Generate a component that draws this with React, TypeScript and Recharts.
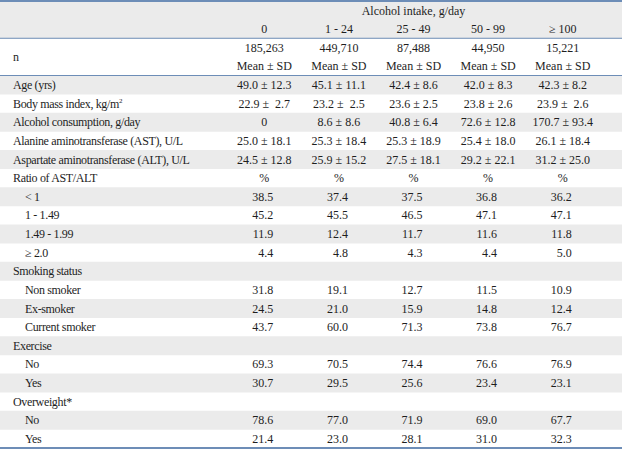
import React from "react";
import { ComposedChart, Bar, Scatter, XAxis, YAxis, ReferenceLine, ReferenceArea } from "recharts";

// ---------- data ----------
const COLUMNS = ["0", "1 - 24", "25 - 49", "50 - 99", "≥ 100"];
const HEADER_TITLE = "Alcohol intake, g/day";
const N_COUNTS = ["185,263", "449,710", "87,488", "44,950", "15,221"];
const STAT_LABEL = "Mean ± SD";

const AGE = ["49.0 ± 12.3", "45.1 ± 11.1", "42.4 ± 8.6", "42.0 ± 8.3", "42.3 ± 8.2"];
const BMI = ["22.9 ±  2.7", "23.2 ±  2.5", "23.6 ± 2.5", "23.8 ± 2.6", "23.9 ±  2.6"];
const ALCOHOL = ["0", "8.6 ± 8.6", "40.8 ± 6.4", "72.6 ± 12.8", "170.7 ± 93.4"];
const AST = ["25.0 ± 18.1", "25.3 ± 18.4", "25.3 ± 18.9", "25.4 ± 18.0", "26.1 ± 18.4"];
const ALT = ["24.5 ± 12.8", "25.9 ± 15.2", "27.5 ± 18.1", "29.2 ± 22.1", "31.2 ± 25.0"];
const PERCENT = ["%", "%", "%", "%", "%"];
const RATIO_LT1 = ["38.5", "37.4", "37.5", "36.8", "36.2"];
const RATIO_1_149 = ["45.2", "45.5", "46.5", "47.1", "47.1"];
const RATIO_149_199 = ["11.9", "12.4", "11.7", "11.6", "11.8"];
const RATIO_GE2 = ["4.4", "4.8", "4.3", "4.4", "5.0"];
const NON_SMOKER = ["31.8", "19.1", "12.7", "11.5", "10.9"];
const EX_SMOKER = ["24.5", "21.0", "15.9", "14.8", "12.4"];
const CURRENT_SMOKER = ["43.7", "60.0", "71.3", "73.8", "76.7"];
const EXERCISE_NO = ["69.3", "70.5", "74.4", "76.6", "76.9"];
const EXERCISE_YES = ["30.7", "29.5", "25.6", "23.4", "23.1"];
const OVERWEIGHT_NO = ["78.6", "77.0", "71.9", "69.0", "67.7"];
const OVERWEIGHT_YES = ["21.4", "23.0", "28.1", "31.0", "32.3"];

type RowDef = { key: string; label: string; indent: number; values: string[] | null; align: "middle" | "end" };

const ROW_DEFS: RowDef[] = [
  { key: "h1", label: "", indent: 0, values: null, align: "middle" },
  { key: "h2", label: "", indent: 0, values: COLUMNS, align: "middle" },
  { key: "n1", label: "n", indent: 0, values: N_COUNTS, align: "middle" },
  { key: "n2", label: "", indent: 0, values: COLUMNS.map(() => STAT_LABEL), align: "middle" },
  { key: "age", label: "Age (yrs)", indent: 0, values: AGE, align: "middle" },
  { key: "bmi", label: "Body mass index, kg/m", indent: 0, values: BMI, align: "middle" },
  { key: "alc", label: "Alcohol consumption, g/day", indent: 0, values: ALCOHOL, align: "middle" },
  { key: "ast", label: "Alanine aminotransferase (AST), U/L", indent: 0, values: AST, align: "middle" },
  { key: "alt", label: "Aspartate aminotransferase (ALT), U/L", indent: 0, values: ALT, align: "middle" },
  { key: "ratio", label: "Ratio of AST/ALT", indent: 0, values: PERCENT, align: "middle" },
  { key: "r1", label: "< 1", indent: 1, values: RATIO_LT1, align: "end" },
  { key: "r2", label: "1 - 1.49", indent: 1, values: RATIO_1_149, align: "end" },
  { key: "r3", label: "1.49 - 1.99", indent: 1, values: RATIO_149_199, align: "end" },
  { key: "r4", label: "≥ 2.0", indent: 1, values: RATIO_GE2, align: "end" },
  { key: "smk", label: "Smoking status", indent: 0, values: null, align: "end" },
  { key: "smk1", label: "Non smoker", indent: 1, values: NON_SMOKER, align: "end" },
  { key: "smk2", label: "Ex-smoker", indent: 1, values: EX_SMOKER, align: "end" },
  { key: "smk3", label: "Current smoker", indent: 1, values: CURRENT_SMOKER, align: "end" },
  { key: "ex", label: "Exercise", indent: 0, values: null, align: "end" },
  { key: "ex1", label: "No", indent: 1, values: EXERCISE_NO, align: "end" },
  { key: "ex2", label: "Yes", indent: 1, values: EXERCISE_YES, align: "end" },
  { key: "ow", label: "Overweight*", indent: 0, values: null, align: "end" },
  { key: "ow1", label: "No", indent: 1, values: OVERWEIGHT_NO, align: "end" },
  { key: "ow2", label: "Yes", indent: 1, values: OVERWEIGHT_YES, align: "end" },
];

// shaded rows: header + alternating body rows starting at "Age"
const rows = ROW_DEFS.map((r, i) => ({
  key: r.key,
  shade: i < 2 || (i >= 4 && (i - 4) % 2 === 0) ? 1 : 0,
}));

type Cell = { key: string; col: string; text: string; align: "middle" | "end" };
const cells: Cell[] = [];
COLUMNS.forEach((col, ci) => {
  ROW_DEFS.forEach((r) => {
    if (r.values) cells.push({ key: r.key, col, text: r.values[ci], align: r.align });
  });
});
cells.push({ key: "h1", col: COLUMNS[2], text: HEADER_TITLE, align: "middle" });

const labelByKey: Record<string, RowDef> = {};
ROW_DEFS.forEach((r) => (labelByKey[r.key] = r));

// ---------- layout ----------
const W = 622;
const H = 451;
const MARGIN = { top: 1, right: 0, bottom: 3, left: -1 };
const ROW_H = (H - MARGIN.top - MARGIN.bottom) / ROW_DEFS.length;
const FONT = "'Liberation Serif', 'Times New Roman', serif";
const FS = 12;
const TXT = "#1e1e1e";
const GRAY = "#ebebeb";
const RULE = "#6d8db7";

const LabelTick = (props: any) => {
  const { y, payload } = props;
  const r = labelByKey[payload.value];
  if (!r || !r.label) return <g />;
  const dy = r.key === "n1" ? ROW_H / 2 : 0;
  return (
    <text
      x={13 + r.indent * 12}
      y={y + dy}
      dy="0.35em"
      textAnchor="start"
      fontFamily={FONT}
      fontSize={FS}
      letterSpacing={-0.35}
      fill={TXT}
    >
      {r.label}
      {r.key === "bmi" ? (
        <tspan fontSize={7} dy={-4.5}>
          2
        </tspan>
      ) : null}
    </text>
  );
};

const CellShape = (props: any) => {
  const { cx, cy, payload } = props;
  if (cx == null || cy == null || !payload) return <g />;
  const isEnd = payload.align === "end";
  return (
    <text
      x={isEnd ? cx + 9 : cx}
      y={cy}
      dy="0.35em"
      textAnchor={isEnd ? "end" : "middle"}
      fontFamily={FONT}
      fontSize={FS}
      fill={TXT}
      style={{ whiteSpace: "pre" }}
    >
      {payload.text}
    </text>
  );
};

const UnderlineShape = (props: any) => {
  const { x, y, width, height } = props;
  return <line x1={x} x2={x + width} y1={y + height} y2={y + height} stroke={RULE} strokeWidth={1} />;
};

export default function App() {
  return (
    <div style={{ position: "absolute", left: 0, top: 0, width: W, height: H, background: "#fff" }}>
      <ComposedChart
        width={W}
        height={H}
        data={rows}
        layout="vertical"
        margin={MARGIN}
        barCategoryGap={0}
        barGap={0}
      >
        <XAxis xAxisId={0} type="number" domain={[0, 1]} hide />
        <XAxis
          xAxisId="col"
          type="category"
          dataKey="col"
          allowDuplicatedCategory={false}
          padding={{ left: 227, right: 22 }}
          hide
        />
        <YAxis
          yAxisId={0}
          type="category"
          dataKey="key"
          allowDuplicatedCategory={false}
          width={1}
          axisLine={false}
          tickLine={false}
          interval={0}
          tick={<LabelTick />}
        />
        <Bar
          xAxisId={0}
          yAxisId={0}
          data={rows}
          dataKey="shade"
          fill={GRAY}
          isAnimationActive={false}
        />
        <ReferenceArea
          xAxisId="col"
          yAxisId={0}
          x1={COLUMNS[0]}
          x2={COLUMNS[COLUMNS.length - 1]}
          y1="h1"
          y2="h1"
          ifOverflow="visible"
          shape={<UnderlineShape />}
        />
        <ReferenceLine xAxisId={0} yAxisId={0} y="h1" position="start" stroke={RULE} strokeWidth={2} ifOverflow="visible" />
        <ReferenceLine xAxisId={0} yAxisId={0} y="h2" position="end" stroke={RULE} strokeWidth={1} ifOverflow="visible" />
        <ReferenceLine xAxisId={0} yAxisId={0} y="n2" position="end" stroke={RULE} strokeWidth={1} ifOverflow="visible" />
        <ReferenceLine xAxisId={0} yAxisId={0} y="ow2" position="end" stroke={RULE} strokeWidth={2} ifOverflow="visible" />
        <Scatter
          xAxisId="col"
          yAxisId={0}
          data={cells}
          dataKey="key"
          shape={<CellShape />}
          isAnimationActive={false}
        />
      </ComposedChart>
    </div>
  );
}
